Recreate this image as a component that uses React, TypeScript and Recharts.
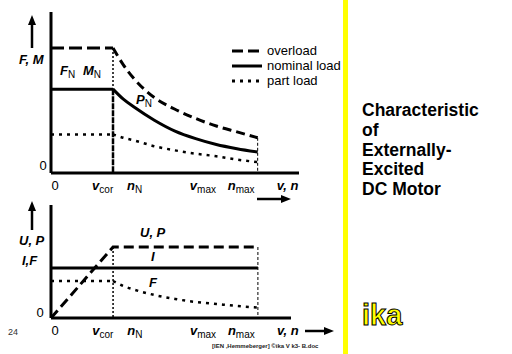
import React from "react";
import { LineChart, Line, XAxis, YAxis, ReferenceLine, Legend } from "recharts";

// speed axis in units where v_cor = 3 and n_max = 10
const V_COR = 3;
const N_MAX = 10;

// top chart: force / torque
const fieldSpeeds = [3, 3.5, 4, 5, 6, 7, 8, 9, 10];
const overloadLevel = 1.49;
const nominalLevel = 1.0;
const partLevel = 0.46;
const overloadCurve = [1.49, 1.29, 1.13, 0.9, 0.76, 0.65, 0.56, 0.49, 0.42];
const nominalCurve = [1.0, 0.88, 0.79, 0.63, 0.5, 0.41, 0.34, 0.29, 0.25];
const partCurve = [0.46, 0.42, 0.39, 0.32, 0.27, 0.23, 0.2, 0.16, 0.13];

// bottom chart: voltage / power, current, field
const upLevel = 1.42;
const currentLevel = 1.0;
const fieldLevel = 0.74;
const fieldCurve = [0.74, 0.64, 0.57, 0.46, 0.38, 0.32, 0.28, 0.24, 0.21];

// tick labels (position, main letter, subscript)
const tickPos = [0.2, 2.5, 4.05, 7.35, 9.2, 11.45];
const tickMain = ["0", "v", "n", "v", "n", "v, n"];
const tickSub = ["", "cor", "N", "max", "max", ""];

const legendNames = ["overload", "nominal load", "part load"];
const legendDash = ["11 5", "", "3 5"];

const FONT = "'Liberation Sans', Arial, Helvetica, sans-serif";

const topData = [
  { x: 0, overloadFlat: overloadLevel, nominalFlat: nominalLevel, partFlat: partLevel },
  ...fieldSpeeds.map((x, i) => ({
    x,
    overloadFlat: x === V_COR ? overloadLevel : undefined,
    nominalFlat: x === V_COR ? nominalLevel : undefined,
    partFlat: x === V_COR ? partLevel : undefined,
    overload: overloadCurve[i],
    nominal: nominalCurve[i],
    part: partCurve[i],
  })),
];

const bottomData = [
  { x: 0, up: 0, current: currentLevel, fieldFlat: fieldLevel },
  ...fieldSpeeds.map((x, i) => ({
    x,
    up: upLevel,
    current: currentLevel,
    fieldFlat: x === V_COR ? fieldLevel : undefined,
    field: fieldCurve[i],
  })),
];

function SpeedTick(props: any) {
  const { x, y, payload } = props;
  const i = tickPos.indexOf(payload.value);
  if (i < 0) return null;
  const plain = tickMain[i] === "0";
  return (
    <text x={x} y={y + 9} textAnchor="middle" fontSize={13} fontFamily={FONT} fill="#000">
      <tspan fontWeight={plain ? "normal" : "bold"} fontStyle={plain ? "normal" : "italic"}>
        {tickMain[i]}
      </tspan>
      {tickSub[i] && (
        <tspan fontSize={10} dy={3}>
          {tickSub[i]}
        </tspan>
      )}
    </text>
  );
}

function ZeroTick(props: any) {
  const { x, y, dx = 0, dy = 0 } = props;
  return (
    <text x={x + dx} y={y + dy} textAnchor="middle" fontSize={13} fontFamily={FONT} fill="#000">
      0
    </text>
  );
}

function LoadLegend() {
  return (
    <div style={{ fontFamily: FONT, fontSize: 13, lineHeight: "15px" }}>
      {legendNames.map((n, i) => (
        <div key={n} style={{ display: "flex", alignItems: "center", whiteSpace: "nowrap" }}>
          <svg width={36} height={15}>
            <line x1={1} x2={31} y1={8} y2={8} stroke="#000" strokeWidth={3} strokeDasharray={legendDash[i] || undefined} />
          </svg>
          <span>{n}</span>
        </div>
      ))}
    </div>
  );
}

const txt: React.CSSProperties = {
  position: "absolute",
  fontFamily: FONT,
  fontSize: 13,
  fontWeight: "bold",
  fontStyle: "italic",
  whiteSpace: "nowrap",
  lineHeight: "15px",
};
const sub: React.CSSProperties = { fontSize: 10, fontWeight: "normal", fontStyle: "normal", position: "relative", top: 3 };

export default function App() {
  return (
    <div style={{ position: "absolute", left: 0, top: 0, width: 512, height: 354, background: "#fff", overflow: "hidden" }}>
      {/* top chart */}
      <div style={{ position: "absolute", left: 0, top: 0 }}>
        <LineChart width={320} height={210} data={topData} margin={{ top: 12, right: 21, bottom: 7, left: 0 }}>
          <XAxis
            type="number"
            dataKey="x"
            domain={[0, 12]}
            ticks={tickPos}
            tick={<SpeedTick />}
            tickLine={false}
            axisLine={{ stroke: "#000", strokeWidth: 3 }}
            height={30}
            interval={0}
          />
          <YAxis
            type="number"
            domain={[0, 1.92]}
            ticks={[0]}
            width={51}
            tickLine={false}
            tick={<ZeroTick dx={0} dy={-3} />}
            axisLine={{ stroke: "#000", strokeWidth: 3 }}
          />
          <ReferenceLine segment={[{ x: V_COR, y: overloadLevel }, { x: V_COR, y: nominalLevel }]} stroke="#000" strokeWidth={1.5} strokeDasharray="2 2" />
          <ReferenceLine segment={[{ x: V_COR, y: nominalLevel }, { x: V_COR, y: 0 }]} stroke="#000" strokeWidth={2.5} strokeDasharray="6 1" />
          <ReferenceLine segment={[{ x: N_MAX, y: overloadCurve[overloadCurve.length - 1] }, { x: N_MAX, y: 0 }]} stroke="#000" strokeWidth={1} strokeDasharray="3 2" />
          <Line dataKey="overloadFlat" type="linear" stroke="#000" strokeWidth={3} strokeDasharray="13 5" dot={false} legendType="none" isAnimationActive={false} />
          <Line dataKey="nominalFlat" type="linear" stroke="#000" strokeWidth={3} dot={false} legendType="none" isAnimationActive={false} />
          <Line dataKey="partFlat" type="linear" stroke="#000" strokeWidth={2.5} strokeDasharray="3 5" dot={false} legendType="none" isAnimationActive={false} />
          <Line dataKey="overload" name="overload" type="monotone" stroke="#000" strokeWidth={3} strokeDasharray="9 5" dot={false} isAnimationActive={false} />
          <Line dataKey="nominal" name="nominal load" type="monotone" stroke="#000" strokeWidth={3} dot={false} isAnimationActive={false} />
          <Line dataKey="part" name="part load" type="monotone" stroke="#000" strokeWidth={2.5} strokeDasharray="3 5" dot={false} isAnimationActive={false} />
          <Legend
            layout="horizontal"
            verticalAlign="middle"
            align="center"
            content={<LoadLegend />}
            wrapperStyle={{ left: 231, top: 43, width: 130 }}
          />
        </LineChart>
      </div>

      {/* bottom chart */}
      <div style={{ position: "absolute", left: 0, top: 190 }}>
        <LineChart width={320} height={160} data={bottomData} margin={{ top: 15, right: 29, bottom: 2, left: 0 }}>
          <XAxis
            type="number"
            dataKey="x"
            domain={[0, 11.6]}
            ticks={tickPos}
            tick={<SpeedTick />}
            tickLine={false}
            axisLine={{ stroke: "#000", strokeWidth: 3 }}
            height={30}
            interval={0}
          />
          <YAxis
            type="number"
            domain={[0, 2.26]}
            ticks={[0]}
            width={51}
            tickLine={false}
            tick={<ZeroTick dx={-3} dy={-1} />}
            axisLine={{ stroke: "#000", strokeWidth: 3 }}
          />
          <ReferenceLine segment={[{ x: V_COR, y: upLevel }, { x: V_COR, y: 0 }]} stroke="#000" strokeWidth={1.5} strokeDasharray="2 2" />
          <ReferenceLine segment={[{ x: N_MAX, y: upLevel }, { x: N_MAX, y: 0 }]} stroke="#000" strokeWidth={1} strokeDasharray="3 2" />
          <Line dataKey="up" type="linear" stroke="#000" strokeWidth={3} strokeDasharray="10 5" dot={false} isAnimationActive={false} />
          <Line dataKey="current" type="linear" stroke="#000" strokeWidth={3} dot={false} isAnimationActive={false} />
          <Line dataKey="fieldFlat" type="linear" stroke="#000" strokeWidth={2.5} strokeDasharray="3 5" dot={false} isAnimationActive={false} />
          <Line dataKey="field" type="monotone" stroke="#000" strokeWidth={2.5} strokeDasharray="3 5" dot={false} isAnimationActive={false} />
        </LineChart>
      </div>

      {/* arrows */}
      <svg width={512} height={354} style={{ position: "absolute", left: 0, top: 0, pointerEvents: "none" }}>
        <line x1={32} y1={48} x2={32} y2={24} stroke="#000" strokeWidth={2.5} />
        <polygon points="32,15 28,25 36,25" fill="#000" />
        <line x1={32} y1={230} x2={32} y2={210} stroke="#000" strokeWidth={2.5} />
        <polygon points="32,201 28,211 36,211" fill="#000" />
        <line x1={257} y1={199} x2={282} y2={199} stroke="#000" strokeWidth={2.5} />
        <polygon points="291,199 281,195 281,203" fill="#000" />
        <line x1={305} y1={331} x2={325} y2={331} stroke="#000" strokeWidth={2.5} />
        <polygon points="334,331 324,327 324,335" fill="#000" />
      </svg>

      {/* axis titles and curve labels */}
      <div style={{ ...txt, left: 19, top: 52 }}>F, M</div>
      <div style={{ ...txt, left: 60, top: 63 }}>
        F<span style={sub}>N</span>
      </div>
      <div style={{ ...txt, left: 83, top: 63 }}>
        M<span style={sub}>N</span>
      </div>
      <div style={{ ...txt, left: 136, top: 92 }}>
        P<span style={sub}>N</span>
      </div>
      <div style={{ ...txt, left: 19, top: 233 }}>U, P</div>
      <div style={{ ...txt, left: 22, top: 253 }}>I,F</div>
      <div style={{ ...txt, left: 140, top: 225 }}>U, P</div>
      <div style={{ ...txt, left: 151, top: 249 }}>I</div>
      <div style={{ ...txt, left: 149, top: 275 }}>F</div>

      <div style={{ position: "absolute", left: 8, top: 327, fontFamily: FONT, fontSize: 9, color: "#333" }}>24</div>
      <div style={{ position: "absolute", left: 212, top: 343, fontFamily: FONT, fontSize: 6, fontWeight: "bold", color: "#222", whiteSpace: "nowrap" }}>
        [IEN ,Hemmeberger] ©ika V k3- B.doc
      </div>

      {/* side panel */}
      <div style={{ position: "absolute", left: 343, top: 0, width: 5, height: 354, background: "#ffff00" }} />
      <div style={{ position: "absolute", left: 362, top: 101, fontFamily: FONT, fontSize: 17.5, fontWeight: "bold", lineHeight: "19.8px", color: "#000" }}>
        Characteristic
        <br />
        of
        <br />
        Externally-
        <br />
        Excited
        <br />
        DC Motor
      </div>
      <svg width={60} height={40} style={{ position: "absolute", left: 358, top: 292 }}>
        <text x={4} y={33} fontFamily={FONT} fontSize={29} fontWeight="bold" fill="#ffff00" stroke="#000" strokeWidth={1}>
          ika
        </text>
      </svg>
    </div>
  );
}
